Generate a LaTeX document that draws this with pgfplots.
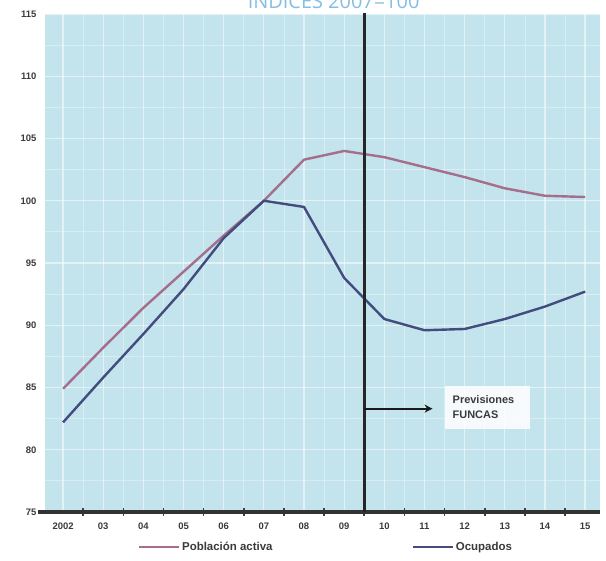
\documentclass[border=0pt]{standalone}
\usepackage{fontspec}
\setmainfont{Liberation Sans}
\newfontfamily\titlefont{Open Sans}
\usepackage{pgfplots}
\pgfplotsset{compat=1.18}
\usetikzlibrary{arrows.meta}

\definecolor{bgblue}{HTML}{C3E4EC}
\definecolor{activa}{HTML}{A56E8C}
\definecolor{ocup}{HTML}{424C7E}
\definecolor{titleblue}{HTML}{86BDE3}
\definecolor{ticktext}{HTML}{3A3A3A}

\begin{document}
\begin{tikzpicture}
\begin{axis}[
  scale only axis,
  width=555bp, height=498bp,
  xmin=2001.55, xmax=2015.37,
  ymin=75, ymax=115,
  axis background/.style={fill=bgblue},
  axis x line*=bottom,
  axis y line*=left,
  x axis line style={draw=black!80, line width=3bp, shorten <=-7bp},
  y axis line style={draw=none},
  xtick={2002,...,2015},
  xticklabels={2002,03,04,05,06,07,08,09,10,11,12,13,14,15},
  minor xtick={2001.5,2002.5,...,2015.5},
  ytick={75,80,...,115},
  minor ytick={77.5,82.5,...,112.5},
  grid=both,
  major grid style={white, line width=1.2bp, opacity=0.55},
  minor grid style={white, line width=0.8bp, opacity=0.35},
  major tick length=0pt,
  minor tick length=7bp,
  tick align=center,
  minor x tick style={black!75, line width=1.6bp},
  minor y tick style={draw=none},
  /pgf/number format/assume math mode=true,
  /pgf/number format/1000 sep={},
  tick label style={font=\bfseries\fontsize{9.5}{11}\selectfont, text=ticktext},
  yticklabel style={xshift=-5bp},
  xticklabel style={yshift=-7bp},
  legend style={at={(0.1676,-0.070)}, anchor=west, draw=none, fill=none,
    inner sep=0pt, nodes={inner sep=1.5bp},
    font=\bfseries\fontsize{11.5}{13}\selectfont, text=ticktext},
  legend columns=2,
  /tikz/every even column/.append style={column sep=138bp},
  legend image code/.code={\draw[#1] (0bp,0bp) -- (40bp,0bp);},
]
% Población activa
\addplot[activa, line width=2.4bp, line join=round] coordinates {
  (2002,84.9) (2003,88.2) (2004,91.4) (2005,94.3) (2006,97.2) (2007,100.0)
  (2008,103.3) (2009,104.0) (2010,103.5) (2011,102.7) (2012,101.9)
  (2013,101.0) (2014,100.4) (2015,100.3)
};
\addlegendentry{Población activa}
% Ocupados
\addplot[ocup, line width=2.4bp, line join=round] coordinates {
  (2002,82.2) (2003,85.8) (2004,89.3) (2005,92.9) (2006,97.0) (2007,100.0)
  (2008,99.5) (2009,93.8) (2010,90.5) (2011,89.6) (2012,89.7)
  (2013,90.5) (2014,91.5) (2015,92.7)
};
\addlegendentry{Ocupados}

% start of the forecast period
\draw[black!85, line width=3bp] (axis cs:2009.5,75) -- (axis cs:2009.5,115.2);
\draw[-{Stealth[length=8bp,width=8bp]}, line width=1.8bp, black!90]
  (axis cs:2009.5,83.3) -- (axis cs:2011.2,83.3);
\node[fill=white, fill opacity=0.85, text opacity=1, align=left,
  font=\bfseries\fontsize{11}{15}\selectfont, text=ticktext,
  minimum width=85bp, minimum height=43bp, inner xsep=4bp]
  at (axis cs:2012.57,83.4) {Previsiones\\FUNCAS\hspace*{24bp}};

\coordinate (bl) at (rel axis cs:0,0);
\coordinate (tr) at (rel axis cs:1,1);
\coordinate (tt) at (rel axis cs:0.52,1);
\end{axis}
\node[anchor=base, text=titleblue, font=\titlefont\fontsize{20}{24}\selectfont]
  at ([yshift=5bp]tt) {ÍNDICES 2007=100};
\pgfresetboundingbox
\useasboundingbox ([shift={(-45bp,-49bp)}]bl) rectangle ([shift={(6bp,14bp)}]tr);
\end{tikzpicture}
\end{document}
